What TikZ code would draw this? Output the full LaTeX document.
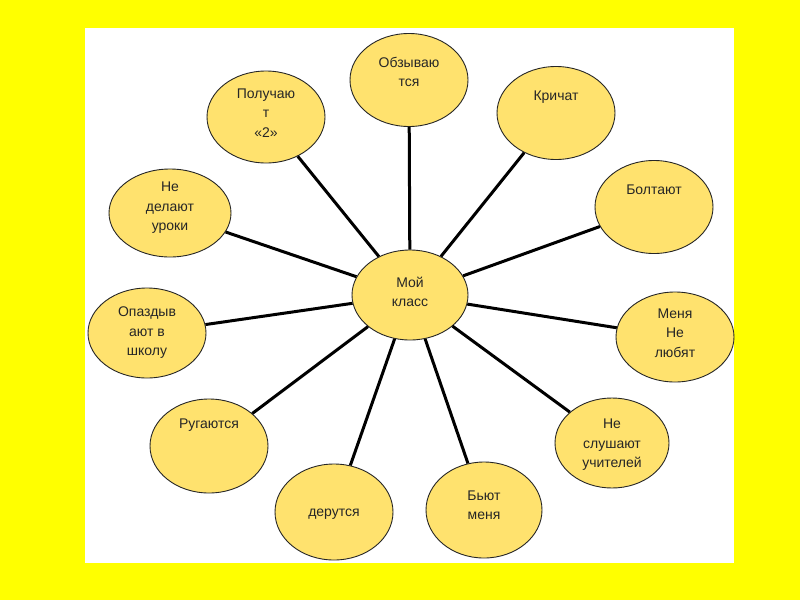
\documentclass[tikz,border=0pt]{standalone}
\usepackage{fontspec}
\setmainfont{Liberation Sans}
\usepackage{xcolor}
\usepackage{tikz}
\usetikzlibrary{shapes.geometric}

\definecolor{bgyellow}{RGB}{255,255,0}
\definecolor{bubfill}{RGB}{255,226,110}

\begin{document}
\begin{tikzpicture}[x=1pt, y=-1pt]
    \tikzstyle{bubble} = [ellipse, draw=black!85, line width=0.9pt, fill=bubfill, minimum width=118pt, minimum height=93pt, inner sep=0pt]
    \tikzstyle{txt} = [align=center, inner sep=0pt, text=black!85, font=\fontsize{14}{19.5}\selectfont]
    \tikzstyle{link} = [line width=3pt, black]

    % frame
    \fill[bgyellow] (0,0) rectangle (800,600);
    \fill[white] (85,28) rectangle (734,563);
    \useasboundingbox (0,0) rectangle (800,600);

    % bubbles
    \node (moi) [bubble, minimum width=116pt, minimum height=90pt] at (410,295) {};
    \node (obz) [bubble] at (409,80) {};
    \node (kri) [bubble] at (556,113) {};
    \node (bol) [bubble] at (654,207) {};
    \node (nel) [bubble, minimum height=90pt] at (675,337) {};
    \node (nes) [bubble, minimum width=114pt, minimum height=90pt] at (612,443) {};
    \node (byu) [bubble, minimum width=116pt, minimum height=96pt] at (484,510) {};
    \node (der) [bubble, minimum height=96pt] at (334,512) {};
    \node (rug) [bubble, minimum height=94pt] at (209,446) {};
    \node (opa) [bubble, minimum height=90pt] at (147,333) {};
    \node (ned) [bubble, minimum width=122pt, minimum height=88pt] at (170,213) {};
    \node (pol) [bubble, minimum height=92pt] at (266,117) {};

    % texts
    \node (moit) [txt] at (410,292) {Мой\\класс};
    \node (obzt) [txt] at (409,72) {Обзываю\\тся};
    \node (krit) [txt] at (556,97) {Кричат};
    \node (bolt) [txt] at (654,190) {Болтают};
    \node (nelt) [txt] at (675,333) {Меня\\Не\\любят};
    \node (nest) [txt] at (612,445) {Не\\слушают\\учителей};
    \node (byut) [txt] at (484,505) {Бьют\\меня};
    \node (dert) [txt] at (334,514) {дерутся};
    \node (rugt) [txt] at (209,425) {Ругаются};
    \node (opat) [txt] at (147,333) {Опаздыв\\ают в\\школу};
    \node (nedt) [txt] at (170,208) {Не\\делают\\уроки};
    \node (polt) [txt] at (266,113) {Получаю\\т\\«2»};

    % links
    \foreach \n in {obz,kri,bol,nel,nes,byu,der,rug,opa,ned,pol}
        \draw [link] (moi) -- (\n);
\end{tikzpicture}
\end{document}
